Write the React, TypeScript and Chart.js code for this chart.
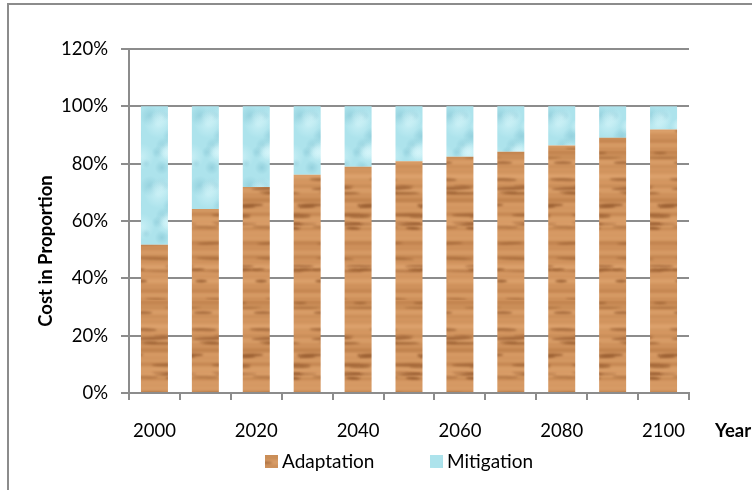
import React, { useEffect, useRef } from 'react';
import { Chart, registerables } from 'chart.js';

Chart.register(...registerables);

const years = ['2000', '2010', '2020', '2030', '2040', '2050', '2060', '2070', '2080', '2090', '2100'];
const adaptation = [51.7, 64.2, 71.9, 76.1, 78.9, 80.8, 82.4, 84.2, 86.3, 89.0, 91.9];
const mitigation = [48.3, 35.8, 28.1, 23.9, 21.1, 19.2, 17.6, 15.8, 13.7, 11.0, 8.1];
const yTickValues = [0, 20, 40, 60, 80, 100, 120];
const seriesNames = ['Adaptation', 'Mitigation'];
const yTitle = 'Cost in Proportion';
const xTitle = 'Year';

const FONT = 'Lato, "Open Sans", sans-serif';
const GRID = '#8c8c8c';

function seeded(seed: number) {
  let s = seed;
  return () => {
    s = (s * 16807) % 2147483647;
    return s / 2147483647;
  };
}

function makeWood(): CanvasPattern | string {
  const c = document.createElement('canvas');
  c.width = 60;
  c.height = 150;
  const g = c.getContext('2d');
  if (!g) return '#d39660';
  const r = seeded(11);
  g.fillStyle = '#d39660';
  g.fillRect(0, 0, 60, 150);
  for (let y = 0; y < 150; y++) {
    const t = Math.sin(y * 0.42) + 0.7 * Math.sin(y * 0.13 + 1.3) + 0.5 * Math.sin(y * 0.9 + 0.4);
    if (t > 0) g.fillStyle = `rgba(160,95,45,${Math.min(0.4, t * 0.16)})`;
    else g.fillStyle = `rgba(236,180,128,${Math.min(0.4, -t * 0.16)})`;
    g.fillRect(0, y, 60, 1);
  }
  (g as any).filter = 'blur(0.8px)';
  for (let i = 0; i < 26; i++) {
    const x = r() * 60;
    const y = r() * 150;
    const w = 12 + r() * 30;
    const h = 1.2 + r() * 2;
    g.fillStyle = `rgba(120,62,22,${0.3 + r() * 0.35})`;
    for (const dx of [-60, 0, 60]) {
      g.beginPath();
      g.ellipse(x + dx, y, w / 2, h / 2, (r() - 0.5) * 0.08, 0, Math.PI * 2);
      g.fill();
    }
  }
  (g as any).filter = 'none';
  const p = g.createPattern(c, 'repeat');
  return p || '#d39660';
}

function makeWater(): CanvasPattern | string {
  const c = document.createElement('canvas');
  c.width = 50;
  c.height = 70;
  const g = c.getContext('2d');
  if (!g) return '#aee4ee';
  const r = seeded(5);
  g.fillStyle = '#ade3ec';
  g.fillRect(0, 0, 50, 70);
  for (let i = 0; i < 10; i++) {
    const x = r() * 50;
    const y = r() * 70;
    const rad = 4 + r() * 8;
    for (const dx of [-50, 0, 50]) {
      for (const dy of [-70, 0, 70]) {
        const gr = g.createRadialGradient(x + dx, y + dy, 0, x + dx, y + dy, rad);
        gr.addColorStop(0, 'rgba(130,195,210,0.55)');
        gr.addColorStop(1, 'rgba(130,195,210,0)');
        g.fillStyle = gr;
        g.fillRect(x + dx - rad, y + dy - rad, rad * 2, rad * 2);
      }
    }
  }
  for (let i = 0; i < 8; i++) {
    const x = r() * 50;
    const y = r() * 70;
    const rad = 5 + r() * 9;
    for (const dx of [-50, 0, 50]) {
      for (const dy of [-70, 0, 70]) {
        const gr = g.createRadialGradient(x + dx, y + dy, 0, x + dx, y + dy, rad);
        gr.addColorStop(0, 'rgba(215,246,250,0.6)');
        gr.addColorStop(1, 'rgba(215,246,250,0)');
        g.fillStyle = gr;
        g.fillRect(x + dx - rad, y + dy - rad, rad * 2, rad * 2);
      }
    }
  }
  const p = g.createPattern(c, 'repeat');
  return p || '#aee4ee';
}

export default function App() {
  const ref = useRef<HTMLCanvasElement | null>(null);

  useEffect(() => {
    const canvas = ref.current;
    if (!canvas) return;
    const wood = makeWood();
    const water = makeWater();

    const extras = {
      id: 'extras',
      beforeDraw(chart: any) {
        const ctx = chart.ctx;
        ctx.save();
        ctx.fillStyle = '#ffffff';
        ctx.fillRect(0, 0, chart.width, chart.height);
        ctx.strokeStyle = '#8c8c8c';
        ctx.lineWidth = 2;
        ctx.beginPath();
        ctx.moveTo(8, chart.height);
        ctx.lineTo(8, 4);
        ctx.lineTo(chart.width, 4);
        ctx.stroke();
        ctx.restore();
      },
      afterDraw(chart: any) {
        const ctx = chart.ctx;
        const area = chart.chartArea;
        ctx.save();
        ctx.fillStyle = '#000';
        ctx.font = `bold 18.5px ${FONT}`;
        ctx.textAlign = 'center';
        ctx.textBaseline = 'middle';
        ctx.translate(46, (area.top + area.bottom) / 2 + 30);
        ctx.rotate(-Math.PI / 2);
        ctx.fillText(yTitle, 0, 0);
        ctx.restore();

        ctx.save();
        ctx.fillStyle = '#000';
        ctx.font = `bold 18.5px ${FONT}`;
        ctx.textAlign = 'left';
        ctx.textBaseline = 'middle';
        ctx.fillText(xTitle, 715, 431);

        const fills = [wood, water];
        const xs = [265, 430];
        ctx.font = `19px ${FONT}`;
        for (let i = 0; i < seriesNames.length; i++) {
          ctx.fillStyle = fills[i] as any;
          ctx.fillRect(xs[i], 455, 13, 13);
          ctx.fillStyle = '#000';
          ctx.fillText(seriesNames[i], xs[i] + 17, 462);
        }
        ctx.restore();
      },
    };

    const chart = new Chart(canvas, {
      type: 'bar',
      data: {
        labels: years,
        datasets: [
          { label: seriesNames[0], data: adaptation, backgroundColor: wood as any, borderWidth: 0, barPercentage: 0.53, categoryPercentage: 1 },
          { label: seriesNames[1], data: mitigation, backgroundColor: water as any, borderWidth: 0, barPercentage: 0.53, categoryPercentage: 1 },
        ],
      },
      options: {
        responsive: false,
        animation: false,
        events: [],
        layout: { padding: { top: 49, right: 63, left: 0, bottom: 0 } },
        plugins: { legend: { display: false }, tooltip: { enabled: false } },
        scales: {
          x: {
            stacked: true,
            grid: { offset: true, drawOnChartArea: false, color: GRID, lineWidth: 2, tickLength: 7 },
            border: { color: GRID, width: 2 },
            ticks: {
              autoSkip: false,
              maxRotation: 0,
              padding: 20,
              color: '#000',
              font: { family: FONT, size: 18.5 },
              callback: (_v: any, i: number) => (i % 2 === 0 ? years[i] : ''),
            },
            afterFit: (s: any) => {
              s.height = 97;
            },
          },
          y: {
            stacked: true,
            min: 0,
            max: 120,
            afterBuildTicks: (s: any) => {
              s.ticks = yTickValues.map((v) => ({ value: v }));
            },
            ticks: {
              padding: 13,
              color: '#000',
              font: { family: FONT, size: 18.5 },
              callback: (v: any) => `${v}%`,
            },
            grid: { color: GRID, lineWidth: 2, tickLength: 8 },
            border: { color: GRID, width: 2 },
            afterFit: (s: any) => {
              s.width = 129;
            },
          },
        },
      },
      plugins: [extras],
    });

    return () => chart.destroy();
  }, []);

  return (
    <div style={{ position: 'fixed', left: 0, top: 0, width: 752, height: 490, background: '#fff' }}>
      <canvas ref={ref} width={752} height={490} style={{ display: 'block' }} />
    </div>
  );
}
